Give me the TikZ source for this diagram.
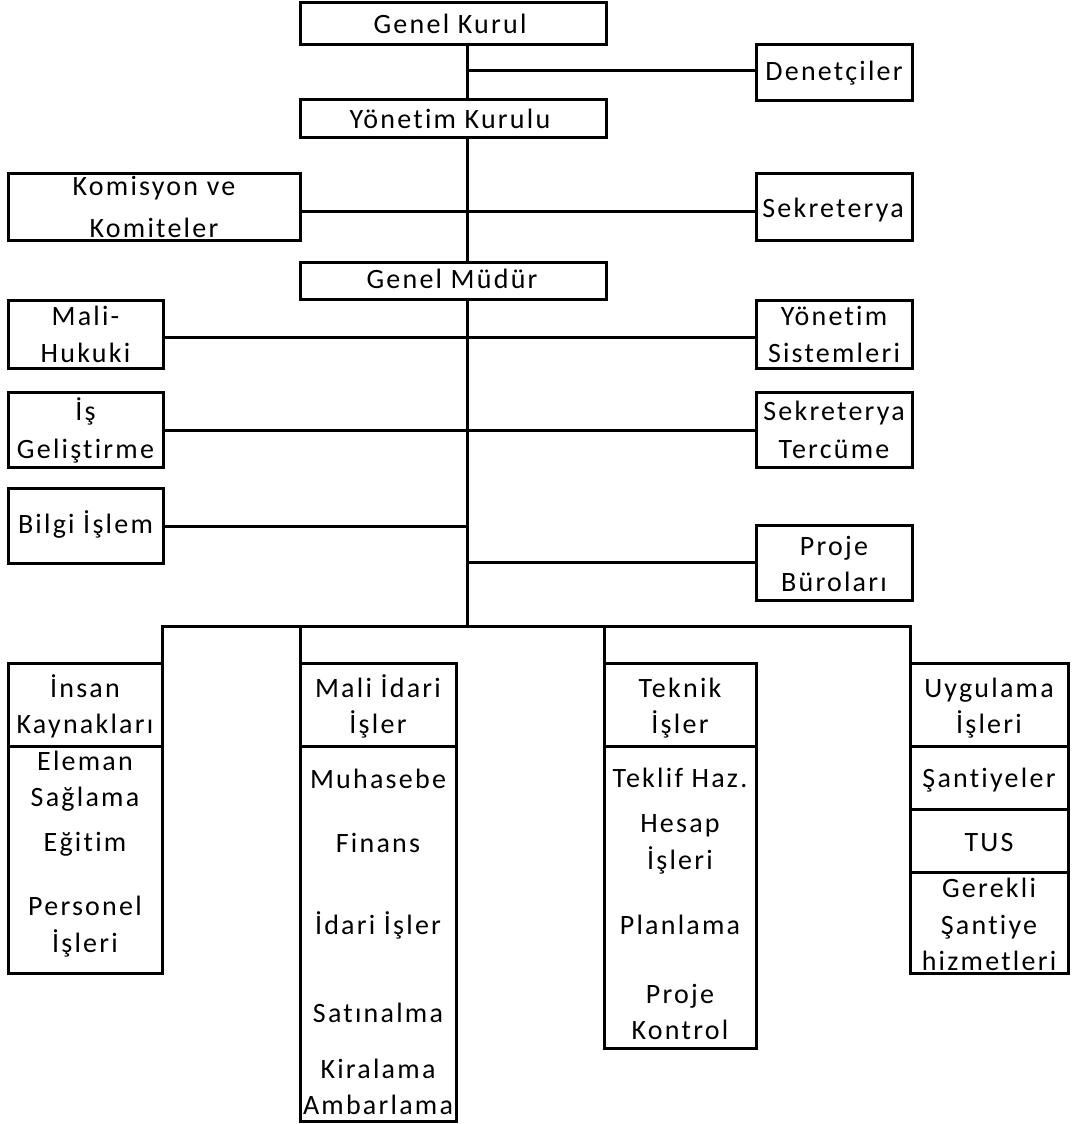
\documentclass[tikz,border=0pt]{standalone}
\usepackage{fontspec}
\setmainfont{Carlito}[LetterSpace=8,Ligatures={NoCommon}]
\newcommand\bx[5]{\node[box, minimum width={(#4-#2)*1pt}, minimum height={(#5-#3)*1pt}] (#1) at ({(#2+#4)/2},{(#3+#5)/2}) {};}
\newcommand\tx[4]{\node[lbl] (#1) at (#2,#3) {#4};}
\begin{document}
\begin{tikzpicture}[x=1pt,y=-1pt,
  box/.style={draw=black, line width=3pt, inner sep=0pt, outer sep=0pt, fill=white},
  lbl/.style={anchor=base, inner sep=0pt, font=\fontsize{28}{34}\selectfont},
  conn/.style={draw=black, line width=3pt}]
\useasboundingbox (0,0) rectangle (1075,1124);
% trunk junction coordinates
\coordinate (tr) at (467,626);
\coordinate (j1) at (467,71);
\coordinate (j2) at (467,211);
\coordinate (j3) at (467,337);
\coordinate (j4) at (467,430);
\coordinate (j5) at (467,526);
\coordinate (j6) at (467,562);
% boxes
\bx{gk}{300}{3}{606}{45}
\bx{den}{756}{45}{912}{100}
\bx{yk}{300}{99}{606}{137}
\bx{kom}{8}{173}{300}{240}
\bx{sek}{756}{173}{912}{240}
\bx{gm}{300}{262}{606}{299}
\bx{mh}{8}{300}{163}{368}
\bx{ys}{756}{300}{912}{368}
\bx{ig}{8}{392}{163}{467}
\bx{st}{756}{392}{912}{467}
\bx{bi}{8}{488}{163}{563}
\bx{pb}{756}{525}{912}{600}
\bx{ik}{8}{663}{162}{746}
\bx{iks}{8}{746}{162}{973}
\bx{mi}{300}{663}{456}{746}
\bx{mis}{300}{746}{456}{1121}
\bx{ti}{604}{663}{756}{746}
\bx{tis}{604}{746}{756}{1048}
\bx{ui}{910}{663}{1068}{746}
\bx{san}{910}{746}{1068}{809}
\bx{tus}{910}{809}{1068}{872}
\bx{ger}{910}{872}{1068}{973}
% connectors
\draw[conn] (gk.south -| tr) -- (yk.north -| tr);
\draw[conn] (yk.south -| tr) -- (gm.north -| tr);
\draw[conn] (gm.south -| tr) -- (tr);
\draw[conn] (j1) -- (j1 -| den.west);
\draw[conn] (j2 -| kom.east) -- (j2 -| sek.west);
\draw[conn] (j3 -| mh.east) -- (j3 -| ys.west);
\draw[conn] (j4 -| ig.east) -- (j4 -| st.west);
\draw[conn] (j5 -| bi.east) -- (j5);
\draw[conn] (j6) -- (j6 -| pb.west);
\draw[conn] (ik.north east) |- (tr) -| (ui.north west);
\draw[conn] (mi.north west) -- (mi.north west |- tr);
\draw[conn] (ti.north west) -- (ti.north west |- tr);
% texts
\tx{gk-t}{450}{34}{Genel Kurul}
\tx{den-t}{834}{81}{Denetçiler}
\tx{yk-t}{450}{128}{Yönetim Kurulu}
\tx{kom-t1}{154}{195}{Komisyon ve}
\tx{kom-t2}{154}{237}{Komiteler}
\tx{sek-t}{833}{217}{Sekreterya}
\tx{gm-t}{452}{288}{Genel Müdür}
\tx{mh-t1}{85.5}{325}{Mali-}
\tx{mh-t2}{85.5}{362}{Hukuki}
\tx{ys-t1}{834}{325}{Yönetim}
\tx{ys-t2}{834}{362}{Sistemleri}
\tx{ig-t1}{85.5}{420}{İş}
\tx{ig-t2}{85.5}{458}{Geliştirme}
\tx{st-t1}{834}{420}{Sekreterya}
\tx{st-t2}{834}{458}{Tercüme}
\tx{bi-t}{85.5}{533}{Bilgi İşlem}
\tx{pb-t1}{834}{555}{Proje}
\tx{pb-t2}{834}{591}{Büroları}
% column 1
\tx{ik-t1}{85}{697}{İnsan}
\tx{ik-t2}{85}{733}{Kaynakları}
\tx{iks-t1}{85}{770}{Eleman}
\tx{iks-t2}{85}{806}{Sağlama}
\tx{iks-t3}{85}{851}{Eğitim}
\tx{iks-t4}{85}{915}{Personel}
\tx{iks-t5}{85}{952}{İşleri}
% column 2
\tx{mi-t1}{378}{697}{Mali İdari}
\tx{mi-t2}{378}{733}{İşler}
\tx{mis-t1}{378}{788}{Muhasebe}
\tx{mis-t2}{378}{852}{Finans}
\tx{mis-t3}{378}{934}{İdari İşler}
\tx{mis-t4}{378}{1022}{Satınalma}
\tx{mis-t5}{378}{1078}{Kiralama}
\tx{mis-t6}{378}{1114}{Ambarlama}
% column 3
\tx{ti-t1}{680}{697}{Teknik}
\tx{ti-t2}{680}{733}{İşler}
\tx{tis-t1}{680}{787}{Teklif Haz.}
\tx{tis-t2}{680}{832}{Hesap}
\tx{tis-t3}{680}{869}{İşleri}
\tx{tis-t4}{680}{934}{Planlama}
\tx{tis-t5}{680}{1003}{Proje}
\tx{tis-t6}{680}{1039}{Kontrol}
% column 4
\tx{ui-t1}{989}{697}{Uygulama}
\tx{ui-t2}{989}{733}{İşleri}
\tx{san-t}{989}{787}{Şantiyeler}
\tx{tus-t}{989}{851}{TUS}
\tx{ger-t1}{989}{897}{Gerekli}
\tx{ger-t2}{989}{934}{Şantiye}
\tx{ger-t3}{989}{970}{hizmetleri}
\end{tikzpicture}
\end{document}
